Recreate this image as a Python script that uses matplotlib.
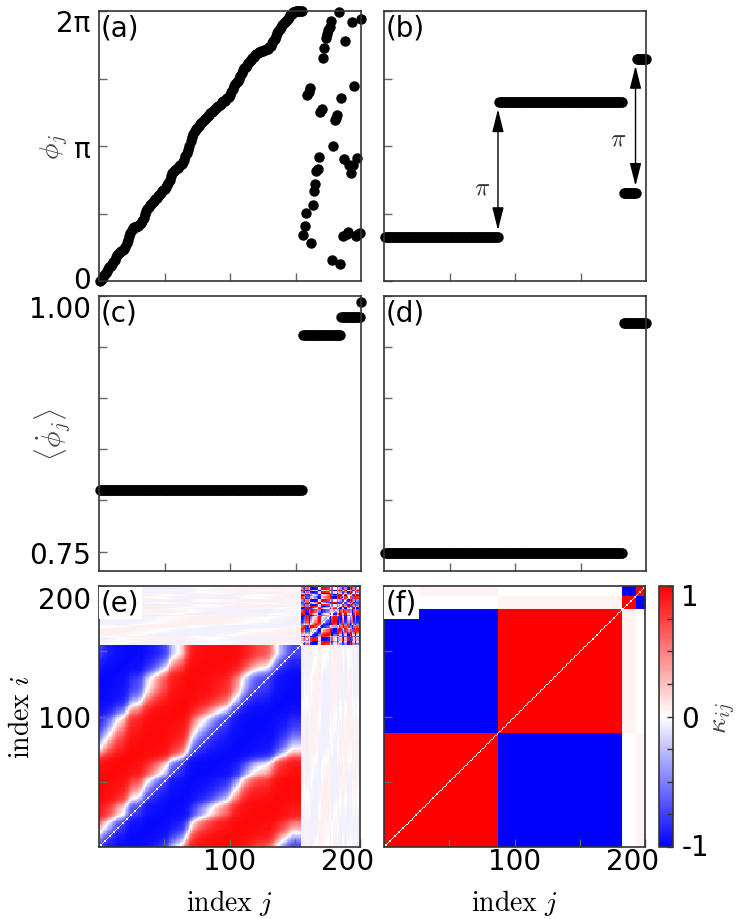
import numpy as np
import matplotlib.pyplot as plt
from matplotlib.ticker import MultipleLocator
from matplotlib.transforms import ScaledTranslation

plt.rcParams['font.family'] = 'DejaVu Sans'
plt.rcParams['mathtext.fontset'] = 'cm'

N = 200
idx = np.arange(1, N + 1)

# (a) phases: travelling cluster j=1..155, then scattered j=156..200
phi_a = [
    0.00, 0.05, 0.10, 0.15, 0.19, 0.23, 0.28, 0.32, 0.35, 0.39,
    0.44, 0.50, 0.56, 0.60, 0.64, 0.67, 0.69, 0.71, 0.75, 0.80,
    0.88, 0.96, 1.04, 1.12, 1.19, 1.23, 1.25, 1.26, 1.27, 1.29,
    1.32, 1.36, 1.40, 1.46, 1.55, 1.63, 1.68, 1.72, 1.76, 1.80,
    1.83, 1.87, 1.91, 1.94, 1.97, 2.01, 2.05, 2.09, 2.12, 2.15,
    2.19, 2.23, 2.28, 2.34, 2.45, 2.52, 2.55, 2.58, 2.61, 2.64,
    2.67, 2.70, 2.73, 2.77, 2.82, 2.90, 2.98, 3.06, 3.15, 3.25,
    3.35, 3.42, 3.48, 3.53, 3.57, 3.61, 3.65, 3.68, 3.71, 3.74,
    3.77, 3.80, 3.83, 3.87, 3.90, 3.93, 3.96, 3.99, 4.02, 4.05,
    4.07, 4.10, 4.13, 4.16, 4.18, 4.20, 4.23, 4.26, 4.29, 4.33,
    4.39, 4.46, 4.53, 4.58, 4.62, 4.66, 4.70, 4.76, 4.83, 4.90,
    4.95, 4.99, 5.03, 5.07, 5.11, 5.15, 5.19, 5.22, 5.25, 5.28,
    5.30, 5.32, 5.34, 5.35, 5.36, 5.37, 5.38, 5.39, 5.41, 5.44,
    5.48, 5.53, 5.58, 5.64, 5.70, 5.76, 5.82, 5.87, 5.92, 5.96,
    6.00, 6.03, 6.06, 6.10, 6.15, 6.19, 6.22, 6.25, 6.27, 6.28,
    6.28, 6.28, 6.28, 6.28, 6.28,
    1.07, 1.28, 1.58, 4.33, 4.40, 4.48, 0.89, 1.77, 2.10, 2.26,
    2.56, 2.61, 2.89, 3.93, 4.00, 5.18, 5.42, 5.65, 5.74, 5.84,
    5.92, 6.06, 0.49, 3.14, 3.75, 3.80, 3.86, 6.27, 0.39, 4.27,
    1.05, 2.84, 5.59, 1.09, 1.13, 2.70, 2.51, 6.03, 2.70, 4.54,
    1.05, 2.87, 1.09, 1.11, 6.10,
]
cluster_a = 155

# (b) phase groups
sizes_b = [87, 95, 10, 8]
levels_b = [1.02, 4.16, 2.05, 5.17]

# (c), (d) mean frequencies
sizes_c = [155, 29, 15, 1]
freq_c = [0.810, 0.962, 0.979, 0.994]
sizes_d = [182, 18]
freq_d = [0.749, 0.974]

# (e) coupling lag / weak coupling between clusters
beta_e = 1.1
weak_e = 0.06

# (f) block values of the coupling matrix (rows i, columns j)
blocks_f = [[1.0, -1.0, 0.0, 0.05],
            [-1.0, 1.0, 0.05, 0.0],
            [0.0, 0.05, 1.0, -1.0],
            [0.05, 0.0, -1.0, 1.0]]

phi_a = np.array(phi_a)
phi_b = np.repeat(levels_b, sizes_b)
w_c = np.repeat(freq_c, sizes_c)
w_d = np.repeat(freq_d, sizes_d)

# coupling matrix (e) from the phases of (a)
dphi = phi_a[None, :] - phi_a[:, None]
K_e = -np.tanh(2.0 * np.cos(dphi - beta_e))
grp = idx > cluster_a
cross = grp[:, None] != grp[None, :]
chaos = grp[:, None] & grp[None, :]
K_e[cross] *= weak_e
K_e[chaos] = -np.cos(dphi[chaos] - beta_e)
np.fill_diagonal(K_e, 0.0)

# coupling matrix (f) from blocks
lab_f = np.repeat(np.arange(len(sizes_b)), sizes_b)
K_f = np.array(blocks_f)[lab_f[:, None], lab_f[None, :]]
np.fill_diagonal(K_f, 0.0)

W, H = 742, 920
fig = plt.figure(figsize=(W / 100, H / 100), dpi=100)


def box(l, t, r, b):
    return [l / W, 1 - b / H, (r - l) / W, (b - t) / H]


ax_a = fig.add_axes(box(99, 12, 361, 282))
ax_b = fig.add_axes(box(384, 12, 646, 282))
ax_c = fig.add_axes(box(99, 297, 361, 572))
ax_d = fig.add_axes(box(384, 297, 646, 572))
ax_e = fig.add_axes(box(99, 587, 360, 848))
ax_f = fig.add_axes(box(384, 587, 645, 848))
cax = fig.add_axes(box(659, 587, 673, 848))

frame = '#333333'
tickc = '#666666'
fs = 20


def style(ax):
    for s in ax.spines.values():
        s.set_color(frame)
        s.set_linewidth(1.2)
    ax.tick_params(which='both', direction='in', length=6, width=1, color=tickc,
                   labelsize=fs, top=False, right=False)
    ax.tick_params(axis='y', pad=6)
    ax.tick_params(axis='x', pad=0)


def shift(label, dx, dy):
    label.set_transform(label.get_transform() + ScaledTranslation(dx / 100, dy / 100, fig.dpi_scale_trans))


dot = dict(ls='none', marker='o', ms=6.5, color='k', clip_on=False)

# (a)
ax_a.plot(idx, phi_a, **dot)
# (b)
ax_b.plot(idx, phi_b, **dot)
for ax in (ax_a, ax_b):
    style(ax)
    ax.set_xlim(0, 200)
    ax.set_ylim(0, 2 * np.pi)
    ax.set_xticks([50, 100, 150])
    ax.set_xticklabels([])
    ax.set_yticks([0, np.pi / 2, np.pi, 3 * np.pi / 2, 2 * np.pi])
ax_a.set_yticklabels(['0', '', 'π', '', '2π'])
ax_b.set_yticklabels([])
shift(ax_a.get_yticklabels()[4], 0, -9)
shift(ax_a.get_yticklabels()[0], 0, 4)
ax_a.set_ylabel(r'$\phi_j$', fontsize=20, color='#444444', va='center', ha='center')
ax_a.yaxis.set_label_coords(-0.168, 0.5)

# arrows in (b)
edges_b = np.cumsum(sizes_b)
for x0, lo, hi, tx, ty in [(edges_b[0], levels_b[0], levels_b[1], 75, 2.2),
                           (edges_b[2], levels_b[2], levels_b[3], 179, 3.33)]:
    ax_b.annotate('', xy=(x0, hi), xytext=(x0, lo),
                  arrowprops=dict(arrowstyle='<|-|>,head_length=1.0,head_width=0.25',
                                  color='k', lw=1, shrinkA=5, shrinkB=5, mutation_scale=14))
    ax_b.text(tx, ty, r'$\pi$', fontsize=18, color='#333333', ha='center', va='center')

# (c), (d)
ax_c.plot(idx, w_c, **dot)
ax_d.plot(idx, w_d, **dot)
for ax in (ax_c, ax_d):
    style(ax)
    ax.set_xlim(0, 200)
    ax.set_ylim(0.731, 1.0)
    ax.set_xticks([50, 100, 150])
    ax.set_xticklabels([])
    ax.set_yticks([0.75, 0.80, 0.85, 0.90, 0.95, 1.00])
ax_c.set_yticklabels(['0.75', '', '', '', '', '1.00'])
ax_d.set_yticklabels([])
shift(ax_c.get_yticklabels()[5], 0, -10)
ax_c.set_ylabel(r'$\langle\dot{\phi}_j\rangle$', fontsize=20, color='#444444', va='center', ha='center')
ax_c.yaxis.set_label_coords(-0.176, 0.5)

# (e), (f)
for ax, K in ((ax_e, K_e), (ax_f, K_f)):
    im = ax.imshow(K, origin='lower', extent=[0, 200, 0, 200], cmap='bwr', vmin=-1, vmax=1,
                   interpolation='nearest', aspect='auto')
    style(ax)
    ax.set_xlim(0, 200)
    ax.set_ylim(0, 200)
    ax.set_xticks([50, 100, 150, 200])
    ax.set_xticklabels(['', '100', '', '200'])
    ax.set_yticks([50, 100, 150, 200])
    shift(ax.get_xticklabels()[3], -12, 0)
    ax.set_xlabel(r'$\mathrm{index}\ j$', fontsize=20, va='center', ha='center')
    ax.xaxis.set_label_coords(0.5, -0.211)
ax_e.set_yticklabels(['', '100', '', '200'])
ax_f.set_yticklabels([])
shift(ax_e.get_yticklabels()[3], 0, -11)
ax_e.set_ylabel(r'$\mathrm{index}\ i$', fontsize=20, va='center', ha='center')
ax_e.yaxis.set_label_coords(-0.299, 0.5)

# colorbar
cb = fig.colorbar(im, cax=cax)
cb.outline.set_edgecolor(frame)
cb.outline.set_linewidth(1.2)
cax.set_yticks([-1, 0, 1])
cax.set_yticklabels(['-1', '0', '1'])
cax.yaxis.set_minor_locator(MultipleLocator(0.25))
cax.tick_params(which='both', direction='in', length=4, width=1, color='#333333',
                labelsize=fs, right=True, left=False, pad=6)
shift(cax.get_yticklabels()[2], 0, -8)
shift(cax.get_yticklabels()[0], 0, 3)
cax.set_ylabel(r'$\kappa_{ij}$', fontsize=20, color='#444444', va='center', ha='center', rotation=90)
cax.yaxis.set_label_coords(4.64, 0.5)

# panel letters
for ax, s in zip((ax_a, ax_b, ax_c, ax_d, ax_e, ax_f), 'abcdef'):
    ax.text(0.008, 0.99, '(%s)' % s, transform=ax.transAxes, ha='left', va='top', fontsize=fs,
            bbox=dict(fc='white', ec='none', pad=1.5) if s in 'ef' else None, zorder=5)

fig.savefig('out.png', dpi=100)
